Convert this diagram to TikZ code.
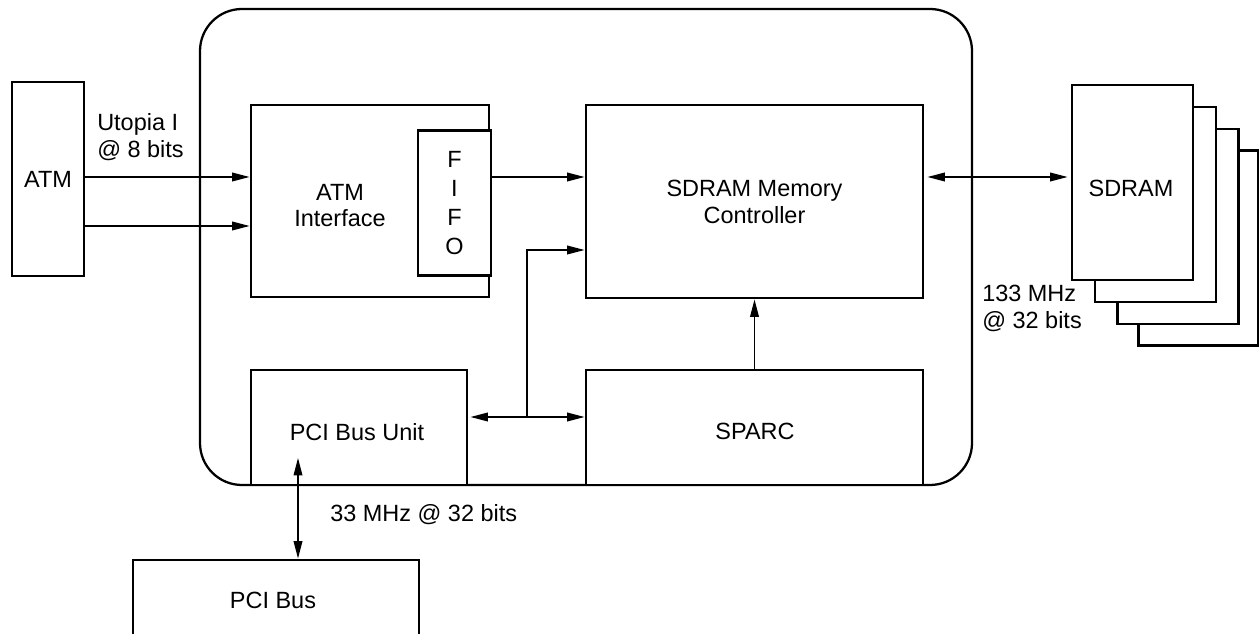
\documentclass[tikz,border=0pt]{standalone}
\usepackage{fontspec}
\setmainfont{Liberation Sans}
\usetikzlibrary{arrows.meta,calc}
\begin{document}
\begin{tikzpicture}[x=0.75pt,y=-0.75pt,
  box/.style={draw, line width=2.2pt, inner sep=0pt, fill=white},
  lbl/.style={inner sep=0pt, font=\fontsize{17.6}{20.3}\selectfont},
  arr/.style={line width=1pt, -{Triangle[length=13pt,width=6.5pt]}},
  biarr/.style={line width=1pt, {Triangle[length=13pt,width=6.5pt]}-{Triangle[length=13pt,width=6.5pt]}}]
\useasboundingbox (0,0) rectangle (1259,634);
\clip (0,0) rectangle (1259,634);
% chip outline
\node[draw, line width=1.7pt, rounded corners=31.5pt, minimum width=579pt, minimum height=357pt, inner sep=0pt] (chip) at (586,247) {};
% ATM
\node[box, minimum width=54pt, minimum height=145.5pt, lbl] (ATM) at (48,179) {ATM};
% ATM interface
\node[box, minimum width=178.5pt, minimum height=144pt] (ATMI) at (370,201) {};
\node[lbl, align=center, font=\fontsize{17.6}{19.5}\selectfont] (ATMIt) at (340,206) {ATM\\Interface};
\node[box, minimum width=54.75pt, minimum height=108.75pt, align=center, font=\fontsize{17.6}{21.75}\selectfont] (FIFO) at (454.5,203) {F\\I\\F\\O};
% SDRAM memory controller
\node[box, minimum width=252.75pt, minimum height=144.75pt, align=center, font=\fontsize{17.6}{20.3}\selectfont] (SMC) at (754.5,201.5) {SDRAM Memory\\Controller};
% PCI bus unit & SPARC
\node[box, minimum width=162pt, minimum height=86.25pt] (PBU) at (359,427.5) {};
\node[lbl] (PBUt) at (357,432) {PCI Bus Unit};
\node[box, minimum width=252.75pt, minimum height=86.25pt, lbl] (SPARC) at (754.5,427.5) {};
\node[lbl] (SPARCt) at (755,431) {SPARC};
% PCI bus
\node[box, minimum width=214.5pt, minimum height=60pt] (PCIbus) at (276,600) {};
\node[lbl] (PCIbust) at (273,600) {PCI Bus};
% SDRAM stack
\node[box, minimum width=90pt, minimum height=146.25pt] (SD4) at (1198.5,248) {};
\node[box, minimum width=90.75pt, minimum height=146.25pt] (SD3) at (1178,226.5) {};
\node[box, minimum width=90.75pt, minimum height=146.25pt] (SD2) at (1155.5,204.5) {};
\node[box, minimum width=90.75pt, minimum height=146.25pt] (SD1) at (1132.5,182.5) {};
\node[lbl] (SD1t) at (1131,188) {SDRAM};
% labels
\node[lbl, anchor=west, align=left] (utop) at (97,137) {Utopia I\\@ 8 bits};
\node[lbl, anchor=west, align=left] (sdlab) at (982,308) {133 MHz\\@ 32 bits};
\node[lbl, anchor=west] (pcilab) at (330,515) {33 MHz @ 32 bits};
% row coordinates
\coordinate (r1) at (0,177);
\coordinate (r2) at (0,226);
\coordinate (r3) at (0,250);
\coordinate (j) at (527,417);
\coordinate (p) at (298,458);
% connectors
\draw[arr] (ATM.east |- r1) -- (ATMI.west |- r1);
\draw[arr] (ATM.east |- r2) -- (ATMI.west |- r2);
\draw[arr] (FIFO.east |- r1) -- (SMC.west |- r1);
\draw[biarr] ($(SMC.east |- r1)+(3,0)$) -- ($(SD1.west |- r1)+(-3,0)$);
\draw[arr] (j) |- (SMC.west |- r3);
\draw[biarr] ($(PBU.east |- j)+(2,0)$) -- (SPARC.west |- j);
\draw[arr] (SPARC.north) -- (SMC.south);
\draw[biarr] (p) -- (p |- PCIbus.north);
\end{tikzpicture}
\end{document}
